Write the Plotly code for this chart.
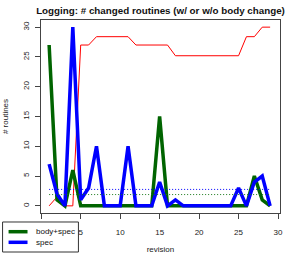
import plotly.graph_objects as go

revisions = list(range(1, 30))
body_spec = [27, 1, 0, 6, 0, 0, 0, 0, 0, 0, 0, 0, 0, 0, 15, 0, 0, 0, 0, 0, 0, 0, 0, 0, 0, 0, 5, 1, 0]
spec = [7, 2, 0, 30, 1, 3, 10, 0, 0, 0, 10, 0, 0, 0, 4, 0, 1, 0, 0, 0, 0, 0, 0, 0, 3, 0, 4, 5, 0]
total = [0, 1.5, 0, 0, 27, 27, 28.4, 28.4, 28.4, 28.4, 28.4, 27, 27, 27, 27, 27, 25.2, 25.2, 25.2,
         25.2, 25.2, 25.2, 25.2, 25.2, 25.2, 28.4, 28.4, 30, 30]

mean_body_spec = sum(body_spec) / len(body_spec)
mean_spec = sum(spec) / len(spec)

x_ticks = [0, 5, 10, 15, 20, 25, 30]
x_tick_labels = ["", "5", "10", "15", "20", "25", "30"]  # "0" is hidden under the legend box
y_ticks = [0, 5, 10, 15, 20, 25, 30]

legend_names = ["body+spec", "spec"]
legend_colors = ["#006400", "#0000ff"]

FONT = "Liberation Sans, Arial, Helvetica, sans-serif"

fig = go.Figure()
fig.add_trace(go.Scatter(x=revisions, y=total, mode="lines", line=dict(color="#ff0000", width=1),
                         showlegend=False, hoverinfo="skip"))
fig.add_trace(go.Scatter(x=revisions, y=body_spec, mode="lines", name="body+spec",
                         line=dict(color="#006400", width=3.5), showlegend=False))
fig.add_trace(go.Scatter(x=revisions, y=spec, mode="lines", name="spec",
                         line=dict(color="#0000ff", width=3.5), showlegend=False))
fig.add_trace(go.Scatter(x=[revisions[0], revisions[-1]], y=[mean_body_spec] * 2, mode="lines",
                         line=dict(color="#1a7a1a", width=1, dash="1px,2px"), showlegend=False))
fig.add_trace(go.Scatter(x=[revisions[0], revisions[-1]], y=[mean_spec] * 2, mode="lines",
                         line=dict(color="#0000ff", width=1, dash="1px,2px"), showlegend=False))

axis_common = dict(showgrid=False, zeroline=False, showline=True, mirror=True,
                   linecolor="#444", linewidth=1, ticks="outside", ticklen=5, automargin=False,
                   tickcolor="#444", tickfont=dict(size=8, color="#222", family=FONT))

# manual legend (box, line samples, labels) placed below-left like the original
shapes = [dict(type="rect", xref="paper", yref="paper", x0=-0.1608, x1=0.1566, y0=-0.2021, y1=-0.0466,
               line=dict(color="#333", width=1), fillcolor="white", layer="above")]
annotations = []
legend_y = [-0.0969, -0.1518]
for name, color, ly in zip(legend_names, legend_colors, legend_y):
    shapes.append(dict(type="line", xref="paper", yref="paper", x0=-0.1357, x1=-0.0564, y0=ly, y1=ly,
                       line=dict(color=color, width=3.5), layer="above"))
    annotations.append(dict(text=name, xref="paper", yref="paper", x=-0.0313, y=ly, xanchor="left",
                            yanchor="middle", showarrow=False, font=dict(size=8, color="#111")))

fig.update_layout(
    width=294, height=254,
    margin=dict(l=40.5, r=14, t=20, b=41, autoexpand=False),
    paper_bgcolor="white", plot_bgcolor="white",
    font=dict(family=FONT, size=8, color="#222"),
    title=dict(text="<b>Logging: # changed routines (w/ or w/o body change)</b>",
               font=dict(size=9.8, color="#111"), xref="paper", x=0.5, xanchor="center",
               yref="container", y=0.96, yanchor="middle"),
    xaxis=dict(range=[-0.03, 30.25], tickvals=x_ticks, ticktext=x_tick_labels, ticklabelstandoff=6,
               title=dict(text="revision", font=dict(size=8), standoff=10), **axis_common),
    yaxis=dict(range=[-1.2, 31.2], tickvals=y_ticks, tickangle=-90, ticklabelstandoff=3,
               title=dict(text="# routines", font=dict(size=8), standoff=11), **axis_common),
    shapes=shapes,
    annotations=annotations,
    showlegend=False,
)

fig.write_html("out.html", config={"displayModeBar": False},
               post_script="document.body.style.margin='0';document.body.style.overflow='hidden';")
